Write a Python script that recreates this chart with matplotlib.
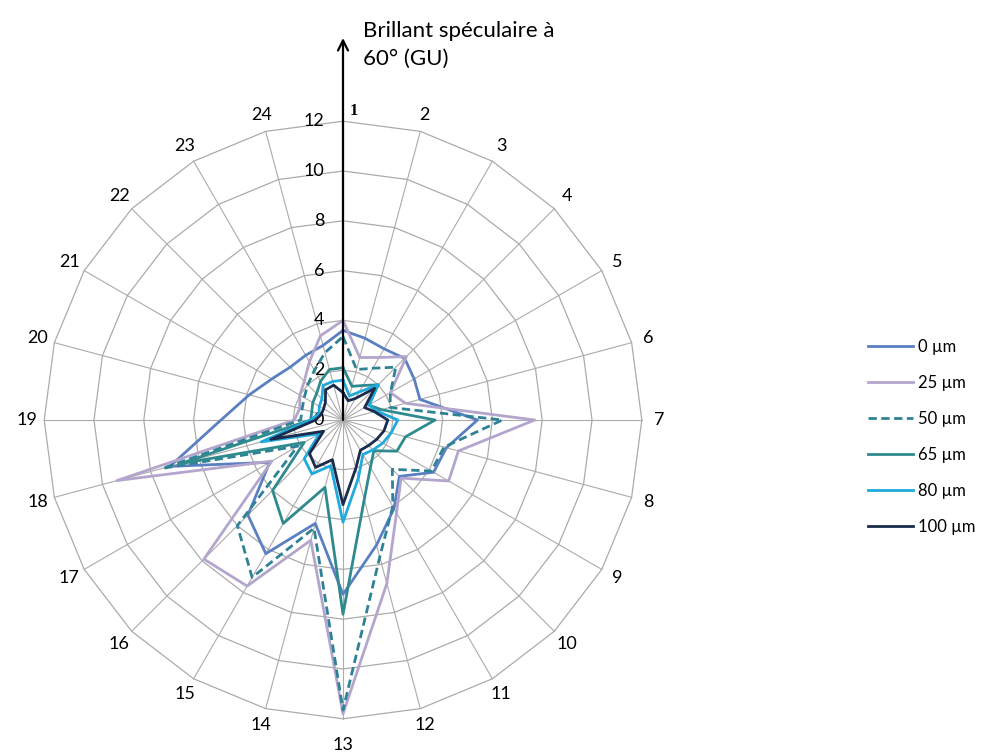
import matplotlib.pyplot as plt
import numpy as np

# brillant speculaire a 60 deg (GU), 24 points de mesure
spokes = [str(i) for i in range(1, 25)]
ticks = [0, 2, 4, 6, 8, 10, 12]
names = ['0 µm', '25 µm', '50 µm', '65 µm', '80 µm', '100 µm']

g_0 = [3.6, 3.4, 3.3, 3.5, 3.3, 3.2, 5.4, 4.3, 4.2, 3.2, 4.1, 5.2,
       7.0, 4.3, 6.2, 5.4, 3.4, 7.2, 4.9, 3.9, 3.3, 3.0, 3.0, 3.1]
g_25 = [4.0, 2.6, 2.9, 3.6, 2.2, 2.6, 7.7, 4.8, 4.9, 3.3, 4.3, 6.8,
        11.8, 5.0, 7.7, 7.9, 3.3, 9.4, 1.95, 1.8, 2.0, 2.2, 2.7, 3.5]
g_50 = [3.35, 2.1, 2.4, 3.0, 2.2, 1.95, 6.4, 4.2, 4.1, 2.8, 4.0, 5.7,
        11.65, 4.5, 7.3, 6.0, 2.1, 7.5, 1.7, 1.7, 1.8, 2.0, 2.3, 2.8]
g_65 = [2.1, 1.4, 1.6, 2.0, 1.2, 1.6, 3.7, 2.6, 2.5, 1.75, 2.2, 3.3,
        7.8, 2.8, 4.8, 4.0, 1.8, 6.8, 1.3, 1.3, 1.4, 1.5, 1.8, 2.1]
g_80 = [1.6, 1.0, 1.3, 2.0, 1.2, 1.4, 2.2, 2.0, 1.85, 1.7, 1.6, 2.4,
        4.1, 1.9, 2.5, 2.2, 1.1, 3.4, 1.3, 1.0, 1.1, 1.2, 1.6, 1.6]
g_100 = [1.1, 0.8, 1.0, 1.8, 1.0, 1.3, 1.8, 1.7, 1.56, 1.45, 1.4, 2.0,
         3.4, 1.65, 2.2, 1.9, 0.9, 3.0, 1.1, 0.9, 0.9, 1.0, 1.4, 1.45]

colors = ['#5a7fc2', '#b3a5cc', '#2f8296', '#2f8a8e', '#1fa9dc', '#1b2b4c']
styles = ['-', '-', '--', '-', '-', '-']

plt.rcParams['font.family'] = ['Lato', 'DejaVu Sans']

u = 24.9  # pixels par unite
cx, cy = 343, 420
fig = plt.figure(figsize=(9.85, 7.53), dpi=100)
ax = fig.add_axes([0, 0, 1, 1])
ax.set_xlim(-cx / u, (985 - cx) / u)
ax.set_ylim(-(753 - cy) / u, cy / u)
ax.axis('off')

theta = np.deg2rad(np.arange(len(spokes)) * 360 / len(spokes))
sx, sy = np.sin(theta), np.cos(theta)

# grille polygonale
for t in ticks[1:]:
    ax.plot(np.append(t * sx, t * sx[0]), np.append(t * sy, t * sy[0]),
            color='#ababab', lw=0.9, zorder=1)
for i in range(len(spokes)):
    ax.plot([0, 12 * sx[i]], [0, 12 * sy[i]], color='#ababab', lw=0.8, zorder=1)

data = [g_0, g_25, g_50, g_65, g_80, g_100]
for vals, name, c, ls in zip(data, names, colors, styles):
    v = np.array(vals + vals[:1])
    xx = v * np.append(sx, sx[0])
    yy = v * np.append(sy, sy[0])
    ax.plot(xx, yy, color=c, ls=ls, lw=2.0, label=name, zorder=3,
            dashes=(3, 1.6) if ls == '--' else (None, None))

# etiquettes des rayons
for i, lab in enumerate(spokes):
    if i == 0:
        ax.text(0.25, 12.1, lab, family='Liberation Serif', fontweight='bold',
                fontsize=12, ha='left', va='bottom')
        continue
    r = 13.05 if i == 12 else 12.7
    ax.text(r * sx[i], r * sy[i], lab, fontsize=13, ha='center', va='center')

for t in ticks:
    ax.text(-0.75, t, str(t), fontsize=13, ha='right', va='center', zorder=2)

# axe vertical avec fleche
ax.annotate('', xy=(0, (cy - 38) / u), xytext=(0, 0),
            arrowprops=dict(arrowstyle='->', lw=1.6, color='black',
                            mutation_scale=18, shrinkA=0, shrinkB=0), zorder=5)
ax.text(0.8, (cy - 45) / u, 'Brillant spéculaire à\n60° (GU)', fontsize=16,
        ha='left', va='center', linespacing=1.5)

leg = ax.legend(loc='center left', bbox_to_anchor=(0.866, 0.42), frameon=False,
                fontsize=12, handlelength=2.7, handletextpad=0.3, labelspacing=1.2)

fig.savefig('out.png', dpi=100)
